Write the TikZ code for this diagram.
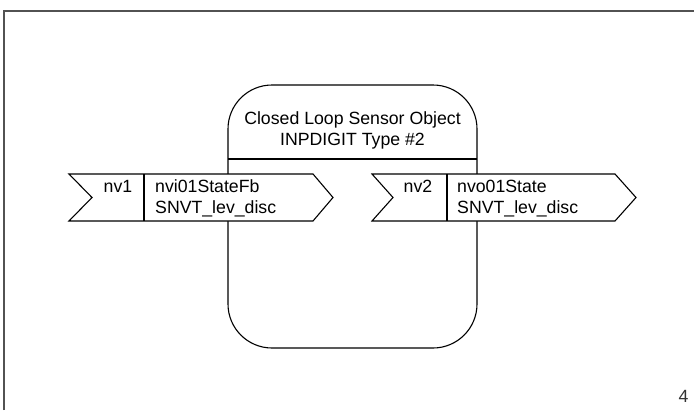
\documentclass[tikz,border=0pt]{standalone}
\usepackage{fontspec}
\setmainfont{Liberation Sans}
\begin{document}
\begin{tikzpicture}[x=1pt,y=-1pt,
  txt/.style={inner sep=0pt,font=\fontsize{17.7}{21}\selectfont},
  frameline/.style={draw=black!68,line width=2pt},
  outline/.style={draw=black,line width=1.1pt},
  nvshape/.style={outline,fill=white}]
\useasboundingbox (0,0) rectangle (694,410);
% frame
\draw[frameline] (4,410) -- (4,11) -- (694,11);
% object box
\draw[outline,rounded corners=44pt] (228,85) rectangle (477,348);
\draw[outline] (228,159) -- (477,159);
\node[txt,anchor=base] (t1) at (352.5,124) {Closed Loop Sensor Object};
\node[txt,anchor=base] (t2) at (352.5,145) {INPDIGIT Type \#2};
% input nv
\draw[nvshape] (69,174) -- (313,174) -- (333,197.5) -- (313,221) -- (69,221) -- (92,197.5) -- cycle;
\draw[outline] (144,174) -- (144,221);
\node[txt,anchor=base] (n1) at (118,192) {nv1};
\node[txt,anchor=base west] (n1a) at (155,192) {nvi01StateFb};
\node[txt,anchor=base west] (n1b) at (155,213) {SNVT\_lev\_disc};
% output nv
\draw[nvshape] (372,174) -- (615,174) -- (636,197.5) -- (615,221) -- (372,221) -- (393,197.5) -- cycle;
\draw[outline] (447,174) -- (447,221);
\node[txt,anchor=base] (n2) at (418,192) {nv2};
\node[txt,anchor=base west] (n2a) at (457,192) {nvo01State};
\node[txt,anchor=base west] (n2b) at (457,213) {SNVT\_lev\_disc};
% page number
\node[txt,anchor=base,text=black!80] (pg) at (683.5,402) {4};
\end{tikzpicture}
\end{document}
